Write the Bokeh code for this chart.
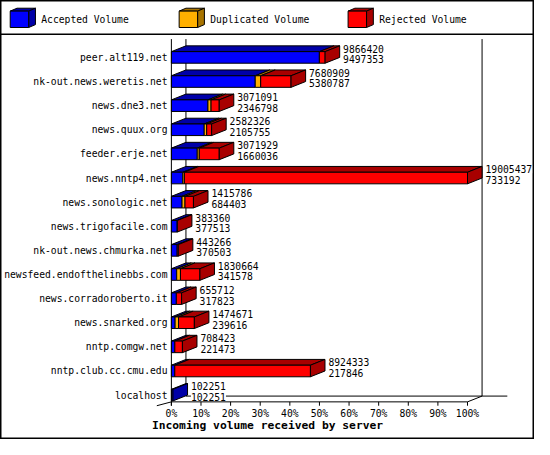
from bokeh.plotting import figure
from bokeh.models import Range1d, ColumnDataSource
from bokeh.core.properties import value
from bokeh.embed import file_html
from bokeh.resources import INLINE

# ---------------- data ----------------
servers = ["peer.alt119.net", "nk-out.news.weretis.net", "news.dne3.net", "news.quux.org",
           "feeder.erje.net", "news.nntp4.net", "news.sonologic.net", "news.trigofacile.com",
           "nk-out.news.chmurka.net", "newsfeed.endofthelinebbs.com", "news.corradoroberto.it",
           "news.snarked.org", "nntp.comgw.net", "nntp.club.cc.cmu.edu", "localhost"]
offered = [9866420, 7680909, 3071091, 2582326, 3071929, 19005437, 1415786, 383360,
           443266, 1830664, 655712, 1474671, 708423, 8924333, 102251]
accepted = [9497353, 5380787, 2346798, 2105755, 1660036, 733192, 684403, 377513,
            370503, 341578, 317823, 239616, 221473, 217846, 102251]
duplicated = [0, 350000, 200000, 160000, 130000, 100000, 190000, 0,
              0, 240000, 0, 220000, 0, 0, 0]
series_names = ["Accepted Volume", "Duplicated Volume", "Rejected Volume"]
face_colors = ["#0000FF", "#FFB000", "#FF0000"]
dark_colors = ["#0000A8", "#A87400", "#A80000"]
tick_values = [0, 10, 20, 30, 40, 50, 60, 70, 80, 90, 100]
tick_labels = ["0%", "10%", "20%", "30%", "40%", "50%", "60%", "70%", "80%", "90%", "100%"]
x_title = "Incoming volume received by server"

# ---------------- layout (reference-pixel geometry) ----------------
REF_W, REF_H = 550, 455
W, H = 534, 439
X0_PX, PX_PCT = 176.0, 3.05     # 0% position and pixels per percent
Y0_PX, PX_ROW = 59.0, 25.0      # first row centre and pixels per row


def hx(px):
    return (px - X0_PX) / PX_PCT


def vy(py):
    return (py - Y0_PX) / PX_ROW


DX = 15 / PX_PCT      # depth offset, percent units
DY = 6 / PX_ROW       # depth offset, row units
HH = 6 / PX_ROW       # half height of bar front
TOP = vy(40)
FLOOR_BACK = vy(410)
FLOOR_FRONT = vy(416)
TICK_LEN = 4 / PX_ROW
FONT = value("DejaVu Sans Mono")
FS = value("9.7px")

p = figure(width=W, height=H, output_backend="svg", toolbar_location=None,
           x_axis_type=None, y_axis_type=None,
           x_range=Range1d(hx(0), hx(REF_W)), y_range=Range1d(vy(REF_H), vy(0)),
           min_border=0, background_fill_color="white", border_fill_color="white")
p.min_border_left = p.min_border_right = p.min_border_top = p.min_border_bottom = 0
p.outline_line_color = "black"
p.outline_line_width = 2
p.grid.visible = False

# ---------------- back walls ----------------
p.segment(x0=[DX, 100 + DX, DX], y0=[TOP, TOP, FLOOR_BACK],
          x1=[DX, 100 + DX, hx(522)], y1=[FLOOR_BACK, FLOOR_BACK, FLOOR_BACK],
          line_color="black", line_width=1)

# ---------------- bars ----------------
vmax = max(offered)
top_xs, top_ys, top_c = [], [], []
fr_l, fr_r, fr_t, fr_b, fr_c = [], [], [], [], []
side_xs, side_ys, side_c = [], [], []
for i in range(len(servers)):
    a = accepted[i] / vmax * 100
    d = duplicated[i] / vmax * 100
    t = offered[i] / vmax * 100
    segs = [(0, a, 0), (a, a + d, 1), (a + d, t, 2)]
    yt, yb = i - HH, i + HH
    last = None
    for x0, x1, k in segs:
        if x1 - x0 <= 1e-9:
            continue
        top_xs.append([x0, x1, x1 + DX, x0 + DX])
        top_ys.append([yt, yt, yt - DY, yt - DY])
        top_c.append(dark_colors[k])
        fr_l.append(x0); fr_r.append(x1); fr_t.append(yt); fr_b.append(yb)
        fr_c.append(face_colors[k])
        last = (x1, k)
    x1, k = last
    side_xs.append([x1, x1, x1 + DX, x1 + DX])
    side_ys.append([yt, yb, yb - DY, yt - DY])
    side_c.append(dark_colors[k])

p.patches(xs=top_xs, ys=top_ys, fill_color=top_c, line_color="black", line_width=1)
p.quad(left=fr_l, right=fr_r, top=fr_t, bottom=fr_b, fill_color=fr_c,
       line_color="black", line_width=1)
p.patches(xs=side_xs, ys=side_ys, fill_color=side_c, line_color="black", line_width=1)

# ---------------- front axis lines and ticks ----------------
p.segment(x0=[0, 0, 100, 0], y0=[TOP, FLOOR_FRONT, FLOOR_FRONT, FLOOR_FRONT],
          x1=[0, 100, 100 + DX, -DX], y1=[FLOOR_FRONT + TICK_LEN, FLOOR_FRONT, FLOOR_BACK,
                                          FLOOR_FRONT + TICK_LEN],
          line_color="black", line_width=1)
p.segment(x0=tick_values, y0=[FLOOR_FRONT] * len(tick_values),
          x1=tick_values, y1=[FLOOR_FRONT + TICK_LEN] * len(tick_values),
          line_color="black", line_width=1)
p.text(x=tick_values, y=[vy(428)] * len(tick_values), text=tick_labels,
       text_font=FONT, text_font_size=FS, text_align="center", text_baseline="middle",
       text_color="black")
p.text(x=[hx(REF_W / 2)], y=[vy(441)], text=[x_title], text_font=FONT,
       text_font_size=value("11.3px"), text_font_style="bold", text_align="center",
       text_baseline="middle", text_color="black")

# ---------------- category labels ----------------
rows = list(range(len(servers)))
p.text(x=[hx(172)] * len(servers), y=rows, text=servers, text_font=FONT,
       text_font_size=FS, text_align="right", text_baseline="middle", text_color="black")

# ---------------- value labels ----------------
lab_x = [o / vmax * 100 + DX + 3.5 / PX_PCT for o in offered]
lab_src = ColumnDataSource(dict(
    x=lab_x + lab_x,
    y=[r - 9 / PX_ROW for r in rows] + [r + 2 / PX_ROW for r in rows],
    text=[str(v) for v in offered] + [str(v) for v in accepted]))
p.text(x="x", y="y", text="text", source=lab_src, text_font=FONT, text_font_size=FS,
       text_align="left", text_baseline="middle", text_color="black",
       background_fill_color="white")

# ---------------- legend ----------------
p.segment(x0=[hx(0)], y0=[vy(35)], x1=[hx(REF_W)], y1=[vy(35)], line_color="black", line_width=1.5)
lg_front_l = [10 + 174 * k for k in range(3)]
lxs_top, lys_top, lxs_side, lys_side = [], [], [], []
for k in range(3):
    l, r, t, b = lg_front_l[k], lg_front_l[k] + 19, 11, 28
    lxs_top.append([hx(l), hx(r), hx(r + 7), hx(l + 7)])
    lys_top.append([vy(t), vy(t), vy(t - 3), vy(t - 3)])
    lxs_side.append([hx(r), hx(r), hx(r + 7), hx(r + 7)])
    lys_side.append([vy(t), vy(b), vy(b - 3), vy(t - 3)])
p.patches(xs=lxs_top, ys=lys_top, fill_color=dark_colors, line_color="black")
p.patches(xs=lxs_side, ys=lys_side, fill_color=dark_colors, line_color="black")
p.quad(left=[hx(v) for v in lg_front_l], right=[hx(v + 19) for v in lg_front_l],
       top=[vy(11)] * 3, bottom=[vy(28)] * 3, fill_color=face_colors, line_color="black")
p.text(x=[hx(v + 32) for v in lg_front_l], y=[vy(19.5)] * 3, text=series_names,
       text_font=FONT, text_font_size=FS, text_align="left", text_baseline="middle",
       text_color="black")

open("out.html", "w").write(file_html(p, INLINE))
